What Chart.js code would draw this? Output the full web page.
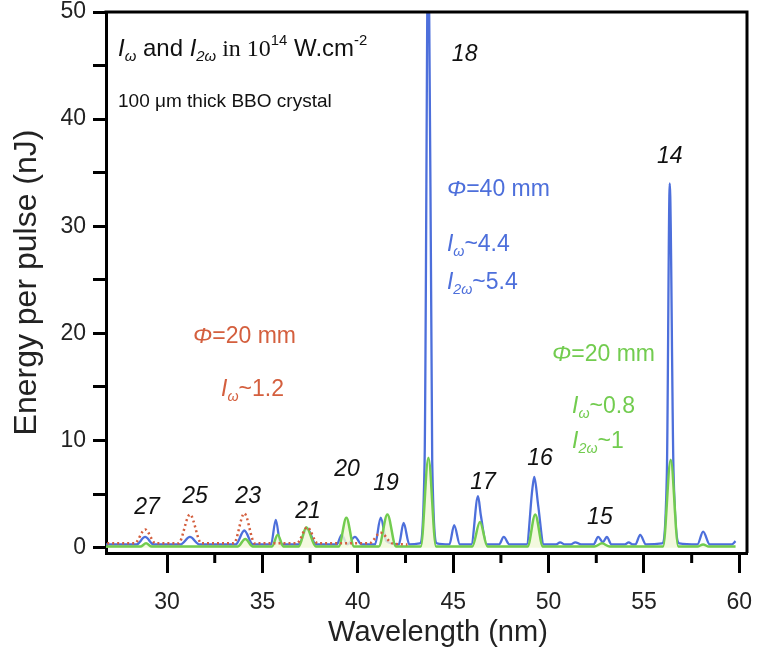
<!DOCTYPE html>
<html>
<head>
<meta charset="utf-8">
<script src="https://cdn.jsdelivr.net/npm/chart.js@4.4.0/dist/chart.umd.min.js"></script>
<style>
  body { margin: 0; background: #fff; }
  #wrap { width: 759px; height: 654px; }
</style>
</head>
<body>
<div id="wrap"><canvas id="chart" width="759" height="654"></canvas></div>
<script>
// phi = 40 mm (blue)
const blueX = [26.6, 28.4, 28.85, 29.3, 30.7, 31.2, 31.7, 33.6, 34.05, 34.5, 35.45, 35.7, 35.95, 36.9, 37.35, 37.8,
  38.9, 39.15, 39.45, 39.85, 40.2, 40.9, 41.2, 41.5, 42.15, 42.4, 42.7, 43.25, 43.5, 43.7, 43.9, 44.15, 44.8, 45.05,
  45.35, 45.95, 46.3, 46.45, 46.75, 47.4, 47.65, 47.95, 48.85, 49.15, 49.25, 49.45, 49.75, 50.4, 50.6, 50.85, 51.15, 51.4,
  51.7, 52.35, 52.6, 52.85, 53.05, 53.3, 54.0, 54.2, 54.4, 54.55, 54.8, 55.1, 55.95, 56.2, 56.35, 56.55, 56.85,
  57.8, 58.1, 58.45, 59.6, 59.8];
const blueY = [0.3, 0.3, 1.0, 0.3, 0.3, 1.0, 0.3, 0.3, 1.6, 0.3, 0.3, 2.6, 0.3, 0.3, 1.8, 0.3,
  0.3, 1.2, 0.3, 1.0, 0.3, 0.3, 2.8, 0.6, 0.3, 2.3, 0.3, 0.4, 8, 60, 8, 0.4, 0.3, 2.1,
  0.3, 0.3, 4.8, 3.0, 0.3, 0.3, 1.0, 0.3, 0.3, 5.5, 6.6, 4.0, 0.3, 0.3, 0.5, 0.3, 0.3, 0.5,
  0.3, 0.3, 1.0, 0.5, 1.0, 0.3, 0.3, 0.5, 0.3, 0.3, 1.2, 0.3, 0.4, 7, 34, 7, 0.4,
  0.3, 1.5, 0.3, 0.3, 0.6];

// phi = 20 mm, I_w ~0.8, I_2w ~1 (green)
const greenX = [26.6, 28.6, 28.9, 29.2, 33.7, 34.1, 34.5, 35.5, 35.8, 36.1, 36.9, 37.3, 37.8, 39.0, 39.4, 39.8,
  41.1, 41.55, 42.0, 43.3, 43.7, 44.1, 46.0, 46.4, 46.8, 48.9, 49.3, 49.7, 52.4, 52.8, 53.2, 56.0, 56.4, 56.8,
  57.8, 58.1, 58.4, 59.8];
const greenY = [0.1, 0.1, 0.4, 0.1, 0.1, 0.8, 0.1, 0.1, 1.2, 0.1, 0.1, 1.9, 0.1, 0.1, 2.8, 0.1,
  0.1, 3.1, 0.1, 0.1, 8.4, 0.1, 0.1, 2.4, 0.1, 0.1, 3.1, 0.1, 0.1, 0.4, 0.1, 0.1, 8.2, 0.1,
  0.1, 0.3, 0.1, 0.1];

// phi = 20 mm, I_w ~1.2 (red dotted)
const redX = [26.6, 28.3, 28.85, 29.4, 30.6, 31.2, 31.8, 33.5, 34.05, 34.6, 36.8, 37.35, 37.9, 40.6, 41.2, 41.8, 42.6];
const redY = [0.4, 0.4, 1.7, 0.4, 0.4, 3.1, 0.4, 0.4, 3.2, 0.4, 0.4, 1.9, 0.4, 0.4, 1.4, 0.4, 0.3];

const xTicks = [30, 35, 40, 45, 50, 55, 60];
const xMinor = [32.5, 37.5, 42.5, 47.5, 52.5, 57.5];
const yTicks = [0, 5, 10, 15, 20, 25, 30, 35, 40, 45, 50];

const harmonics = ['27', '25', '23', '21', '20', '19', '18', '17', '16', '15', '14'];
const harmonicPos = [[28.95, 3.7], [31.47, 4.8], [34.25, 4.8], [37.39, 3.4], [39.43, 7.3], [41.48, 6.0],
  [45.6, 46.0], [46.56, 6.1], [49.55, 8.3], [52.69, 2.8], [56.35, 36.5]];

const BLUE = '#4d6fdb';
const GREEN = '#72cc4f';
const RED = '#d45f3e';
const SANS = '"Liberation Sans", Arial, sans-serif';

const toPts = (xs, ys) => xs.map((x, i) => ({ x: x, y: ys[i] }));

// segments: [text, style]  style: i = italic, sub, sup, serif
const notes = [
  { x: 27.43, y: 46.5, size: 24, color: '#111', segs: [['I', 'i'], ['ω', 'i sub'], [' and ', ''], ['I', 'i'], ['2ω', 'i sub'], [' in 10', 'serif'], ['14', 'sup'], [' W.cm', ''], ['-2', 'sup']] },
  { x: 27.43, y: 41.6, size: 19, color: '#111', segs: [['100 μm thick BBO crystal', '']] },
  { x: 44.67, y: 33.4, size: 23, color: BLUE, segs: [['Φ', 'i'], ['=40 mm', '']] },
  { x: 44.67, y: 28.3, size: 23, color: BLUE, segs: [['I', 'i'], ['ω', 'i sub'], ['~4.4', '']] },
  { x: 44.67, y: 24.7, size: 23, color: BLUE, segs: [['I', 'i'], ['2ω', 'i sub'], ['~5.4', '']] },
  { x: 31.36, y: 19.7, size: 23, color: RED, segs: [['Φ', 'i'], ['=20 mm', '']] },
  { x: 32.83, y: 14.75, size: 23, color: RED, segs: [['I', 'i'], ['ω', 'i sub'], ['~1.2', '']] },
  { x: 50.18, y: 18.0, size: 23, color: GREEN, segs: [['Φ', 'i'], ['=20 mm', '']] },
  { x: 51.23, y: 13.2, size: 23, color: GREEN, segs: [['I', 'i'], ['ω', 'i sub'], ['~0.8', '']] },
  { x: 51.23, y: 9.9, size: 23, color: GREEN, segs: [['I', 'i'], ['2ω', 'i sub'], ['~1', '']] }
];

function drawRich(ctx, x, y, size, color, segs) {
  let cx = x;
  ctx.fillStyle = color;
  ctx.textBaseline = 'middle';
  ctx.textAlign = 'left';
  segs.forEach(([t, st]) => {
    const small = st.includes('sub') || st.includes('sup');
    const s = small ? size * 0.62 : size;
    const fam = st.includes('serif') ? '"Liberation Serif", "Times New Roman", serif' : SANS;
    ctx.font = (st.includes('i') && !st.includes('serif') ? 'italic ' : '') + s + 'px ' + fam;
    let dy = 0;
    if (st.includes('sub')) dy = size * 0.32;
    if (st.includes('sup')) dy = -size * 0.35;
    ctx.fillText(t, cx, y + dy);
    cx += ctx.measureText(t).width;
  });
}

const extras = {
  id: 'extras',
  afterDraw(chart) {
    const { ctx, chartArea: a, scales: { x, y } } = chart;
    ctx.save();
    ctx.strokeStyle = '#000';
    ctx.lineWidth = 3;
    ctx.beginPath();
    ctx.moveTo(a.left - 1.5, a.top);
    ctx.lineTo(a.right, a.top);
    ctx.lineTo(a.right, a.bottom);
    ctx.stroke();
    ctx.beginPath();
    xMinor.forEach(v => {
      const px = x.getPixelForValue(v);
      ctx.moveTo(px, a.bottom);
      ctx.lineTo(px, a.bottom + 10);
    });
    ctx.stroke();

    // x axis title, set right of centre like the original
    ctx.fillStyle = '#222';
    ctx.textAlign = 'center';
    ctx.textBaseline = 'middle';
    ctx.font = '29px ' + SANS;
    ctx.fillText('Wavelength (nm)', x.getPixelForValue(44.2), a.bottom + 80);

    ctx.fillStyle = '#111';
    ctx.font = 'italic 23px ' + SANS;
    harmonics.forEach((h, i) => {
      ctx.fillText(h, x.getPixelForValue(harmonicPos[i][0]), y.getPixelForValue(harmonicPos[i][1]));
    });
    notes.forEach(n => drawRich(ctx, x.getPixelForValue(n.x), y.getPixelForValue(n.y), n.size, n.color, n.segs));
    ctx.restore();
  }
};

const noPad = s => { s.paddingTop = 0; s.paddingRight = 0; s.paddingLeft = 0; s.paddingBottom = 0; };

new Chart(document.getElementById('chart'), {
  type: 'scatter',
  data: {
    datasets: [
      { label: 'red', data: toPts(redX, redY), showLine: true, borderColor: RED, borderWidth: 2.5,
        borderDash: [2, 3], pointRadius: 0, cubicInterpolationMode: 'monotone', order: 1 },
      { label: 'green', data: toPts(greenX, greenY), showLine: true, borderColor: GREEN, borderWidth: 2.5,
        backgroundColor: 'rgba(240, 248, 215, 0.8)', fill: 'origin', pointRadius: 0,
        cubicInterpolationMode: 'monotone', order: 2 },
      { label: 'blue', data: toPts(blueX, blueY), showLine: true, borderColor: BLUE, borderWidth: 2.3,
        pointRadius: 0, cubicInterpolationMode: 'monotone', order: 3 }
    ]
  },
  options: {
    responsive: false,
    animation: false,
    events: [],
    layout: { padding: { top: 12, right: 12, left: 0, bottom: 0 } },
    plugins: { legend: { display: false }, tooltip: { enabled: false } },
    scales: {
      x: {
        type: 'linear', min: 26.8, max: 60.4,
        afterBuildTicks: s => { s.ticks = xTicks.map(v => ({ value: v })); },
        afterFit: s => { s.height = 101; noPad(s); },
        border: { color: '#000', width: 3 },
        grid: { drawOnChartArea: false, drawTicks: true, tickLength: 20, tickWidth: 3, tickColor: '#000' },
        ticks: { color: '#222', padding: 16, font: { family: SANS, size: 23 }, maxRotation: 0 },
        title: { display: false }
      },
      y: {
        type: 'linear', min: -0.5, max: 50,
        afterBuildTicks: s => { s.ticks = yTicks.map(v => ({ value: v })); },
        afterFit: s => { s.width = 106; noPad(s); },
        border: { color: '#000', width: 3 },
        grid: { drawOnChartArea: false, drawTicks: true, tickLength: 13, tickWidth: 3, tickColor: '#000' },
        ticks: { color: '#222', padding: 7, font: { family: SANS, size: 23 },
          callback: v => (v % 10 === 0 ? v : '') },
        title: { display: true, text: 'Energy per pulse (nJ)', color: '#222',
          font: { family: SANS, size: 32 }, padding: { top: 8, bottom: 0 } }
      }
    }
  },
  plugins: [extras]
});
</script>
</body>
</html>
